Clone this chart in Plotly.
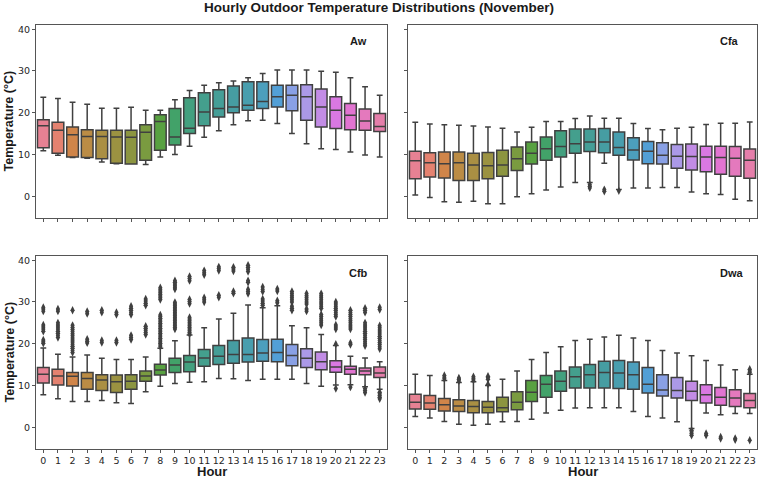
import math
import colorsys
import plotly.graph_objects as go

# ---------------- data ----------------
hours = list(range(24))
hour_labels = [str(h) for h in hours]
climates = ["Aw", "Cfa", "Cfb", "Dwa"]

aw_lower = [10.9, 9.8, 9.3, 9.1, 8.2, 7.8, 7.7, 7.6, 9.4, 10.0, 12.0, 14.1, 15.7, 17.1, 18.1, 18.2, 17.4, 15.0, 12.6, 11.4, 11.2, 10.6, 9.9, 9.4]
aw_q1 = [11.6, 10.3, 9.4, 9.3, 9.0, 7.9, 7.7, 8.6, 11.0, 12.3, 15.0, 16.9, 19.0, 20.0, 20.6, 21.0, 21.4, 20.5, 18.2, 16.6, 16.2, 15.9, 15.8, 15.5]
aw_med = [16.9, 15.8, 14.7, 14.3, 14.3, 14.2, 14.1, 15.3, 17.9, 14.2, 16.3, 20.2, 21.0, 21.4, 21.8, 22.7, 23.8, 24.2, 23.8, 21.4, 20.6, 19.4, 18.0, 16.7]
aw_q3 = [18.3, 17.7, 16.6, 15.9, 15.8, 15.8, 15.8, 17.1, 19.5, 21.0, 23.6, 24.8, 25.5, 26.4, 27.4, 27.4, 26.6, 26.6, 26.7, 25.7, 23.8, 22.2, 20.9, 19.8]
aw_upper = [23.7, 23.4, 22.5, 22.0, 21.1, 21.1, 21.3, 20.6, 20.6, 23.1, 25.3, 26.6, 27.2, 27.6, 28.4, 29.4, 30.2, 30.2, 30.2, 29.9, 29.7, 28.4, 26.2, 24.2]
aw_out = [[] for _ in range(24)]

cfa_lower = [0.3, -0.3, -1.3, -1.4, -1.2, -1.8, -1.8, -0.1, 0.6, 1.5, 2.2, 3.3, 3.3, 7.9, 1.6, 2.0, 2.0, 2.1, 2.1, 1.0, 0.6, 0.4, -0.7, -1.1]
cfa_q1 = [4.2, 4.6, 4.4, 3.8, 3.8, 4.2, 4.8, 6.2, 7.7, 8.6, 9.4, 10.3, 10.7, 10.4, 9.8, 8.7, 7.8, 7.7, 6.7, 6.3, 5.9, 5.3, 4.8, 4.3]
cfa_med = [8.5, 8.0, 7.8, 8.0, 7.5, 7.3, 7.5, 9.0, 10.3, 11.4, 11.9, 12.6, 13.0, 13.0, 11.7, 11.1, 10.8, 9.8, 9.6, 9.5, 9.4, 9.3, 9.1, 8.6]
cfa_q3 = [10.8, 10.4, 10.6, 10.6, 10.3, 10.5, 11.0, 11.8, 13.0, 14.2, 15.7, 16.1, 16.1, 16.2, 15.4, 14.0, 13.1, 12.8, 12.4, 12.5, 12.0, 12.0, 11.9, 11.3]
cfa_upper = [17.7, 17.3, 17.1, 17.0, 16.8, 16.6, 16.3, 15.4, 16.5, 17.9, 17.9, 18.6, 19.2, 18.7, 18.7, 17.4, 16.2, 15.9, 16.3, 16.5, 17.2, 17.5, 17.5, 17.8]
cfa_out = [[] for _ in range(24)]
cfa_out[12] = [2.0, 2.4, 2.8]
cfa_out[13] = [1.2, 1.6]
cfa_out[14] = [1.3]

cfb_lower = [7.8, 6.8, 6.2, 6.2, 6.4, 5.9, 5.7, 8.5, 9.8, 10.5, 10.8, 10.9, 11.7, 11.6, 11.2, 11.5, 11.5, 11.5, 10.5, 9.8, 10.1, 10.2, 9.7, 9.1]
cfb_q1 = [10.6, 10.1, 9.9, 9.1, 8.8, 8.3, 9.1, 11.0, 12.5, 13.1, 13.3, 14.6, 15.0, 15.3, 15.6, 15.8, 15.7, 14.7, 14.3, 13.8, 13.2, 12.7, 12.6, 11.9]
cfb_med = [12.7, 12.3, 12.2, 11.7, 11.3, 10.9, 11.0, 12.3, 13.7, 14.9, 15.6, 16.6, 17.0, 17.4, 17.4, 17.8, 17.9, 17.2, 16.5, 15.7, 14.4, 13.9, 13.5, 13.0]
cfb_q3 = [14.3, 13.9, 13.1, 13.1, 12.6, 12.5, 12.6, 13.5, 15.1, 16.5, 17.2, 18.6, 19.6, 20.8, 21.4, 21.0, 21.1, 19.8, 18.8, 18.0, 15.9, 14.6, 14.2, 14.4]
cfb_upper = [19.0, 17.5, 16.8, 17.3, 16.5, 16.2, 16.2, 16.8, 18.9, 20.7, 22.1, 23.8, 25.9, 27.3, 29.3, 28.6, 29.1, 24.3, 23.8, 22.2, 19.6, 17.0, 16.6, 15.7]
cfb_out = [
    [20.1, 20.5, 20.9, 23.0, 23.5, 24.0, 24.5, 27.8, 28.3, 28.7],
    [21.5, 22.0, 22.5, 23.0, 23.5, 24.0, 24.5, 25.0, 27.8, 28.3],
    [17.9, 18.4, 18.9, 19.4, 19.9, 20.4, 20.9, 21.4, 21.9, 22.4, 22.9, 23.4, 23.9, 24.4, 28.0],
    [20.2, 20.6, 21.1, 27.2, 27.7],
    [20.3, 20.8, 27.5, 28.0],
    [20.3, 20.8, 27.0, 27.5],
    [21.0, 21.5, 22.0, 27.0, 27.5, 28.0, 28.5, 29.0],
    [22.2, 22.7, 23.2, 23.7, 24.2, 29.2, 29.7, 30.2, 30.7],
    [19.3, 19.7, 20.1, 20.5, 20.9, 21.3, 21.7, 22.1, 22.5, 22.9, 23.3, 23.7, 24.1, 24.5, 24.9, 25.3, 25.7, 26.1, 26.5, 26.9,
     30.6, 31.0, 31.4, 31.8, 32.2, 32.6, 33.0, 33.4],
    [23.5, 23.9, 24.3, 24.7, 25.1, 25.5, 25.9, 26.3, 26.7, 27.1, 27.5, 27.9, 28.3, 28.7, 29.1, 29.5, 29.9,
     33.1, 33.5, 33.9, 34.3, 34.7, 35.1],
    [22.3, 22.7, 23.1, 23.5, 23.9, 24.3, 24.7, 25.1, 25.5, 25.9, 26.3, 29.6, 30.1, 30.6, 35.1, 35.6, 36.1],
    [30.0, 30.5, 31.0, 36.5, 37.0, 37.5],
    [31.1, 31.6, 37.5, 38.0, 38.4],
    [32.1, 32.5, 37.4, 37.9, 38.3],
    [32.0, 32.5, 33.0, 34.7, 35.1, 37.3, 37.8, 38.3, 38.8],
    [29.2, 29.7, 30.2, 30.7, 32.5, 33.0, 33.6],
    [29.8, 30.3, 32.6, 33.1],
    [28.0, 28.5, 29.0, 30.0, 30.5, 31.0, 31.5, 32.0, 32.5],
    [27.8, 28.3, 29.5, 30.0, 30.5, 31.0, 31.5, 32.0],
    [24.5, 25.0, 25.5, 26.0, 26.5, 27.0, 28.5, 29.0, 29.5, 30.0, 30.5, 31.0, 31.5, 32.0],
    [9.3, 19.9, 23.5, 24.0, 24.5, 26.5, 27.0, 27.5, 28.0, 28.5, 29.0, 29.5, 30.0],
    [9.6, 19.8, 20.2, 23.5, 24.0, 24.5, 25.0, 25.5, 26.0, 26.5, 27.0, 27.5, 28.0],
    [8.3, 8.8, 9.3, 19.5, 20.0, 20.5, 21.0, 21.5, 22.0, 22.5, 23.0, 23.5, 24.0, 24.5, 25.0, 27.5, 28.0, 28.5],
    [6.8, 7.2, 7.6, 8.0, 8.4, 18.8, 19.3, 19.8, 20.3, 20.8, 21.3, 21.8, 22.3, 22.8, 23.3, 23.8, 24.3, 28.2, 28.7],
]

dwa_lower = [2.6, 2.2, 1.4, 0.7, 0.5, 0.7, 1.3, 1.4, 1.9, 3.4, 4.1, 4.6, 4.7, 4.7, 4.7, 3.8, 2.6, 2.2, 1.3, -0.3, 3.4, 3.0, 3.3, 3.3]
dwa_q1 = [4.4, 4.3, 3.9, 3.8, 3.5, 3.5, 3.7, 4.2, 6.2, 7.2, 8.6, 9.4, 9.4, 9.4, 9.3, 9.1, 8.2, 7.5, 7.0, 6.4, 5.8, 5.3, 5.0, 4.7]
dwa_med = [6.0, 5.8, 5.4, 5.1, 5.0, 4.8, 4.7, 6.0, 8.4, 10.3, 11.0, 12.1, 12.6, 13.1, 13.0, 12.6, 10.3, 8.9, 8.8, 8.6, 7.8, 7.2, 7.0, 6.4]
dwa_q3 = [7.9, 7.6, 6.9, 6.6, 6.4, 6.2, 7.2, 8.5, 11.2, 12.4, 13.5, 14.4, 15.0, 15.8, 16.0, 15.6, 14.3, 12.6, 11.9, 11.0, 10.2, 9.5, 9.0, 8.1]
dwa_upper = [12.7, 12.4, 11.2, 10.7, 10.9, 10.0, 11.5, 13.5, 16.2, 17.9, 19.3, 20.8, 21.1, 21.6, 22.0, 21.4, 20.8, 18.4, 17.8, 17.1, 16.0, 14.9, 13.8, 12.7]
dwa_out = [[] for _ in range(24)]
dwa_out[2] = [11.6, 12.0, 12.4]
dwa_out[3] = [11.1, 11.5, 11.8]
dwa_out[4] = [11.3, 11.7, 12.1]
dwa_out[5] = [10.3, 11.5, 11.9, 12.2]
dwa_out[19] = [-0.7, -1.1, -1.5, -1.9]
dwa_out[20] = [-1.5, -1.9]
dwa_out[21] = [-2.3, -2.7]
dwa_out[22] = [-2.7, -3.0]
dwa_out[23] = [13.1, 13.5, 13.9, -3.1]

y_ticks = [0, 10, 20, 30, 40]

# ---------------- colours (seaborn husl palette, desaturated) ----------------
_M = [[3.2406, -1.5372, -0.4986], [-0.9689, 1.8758, 0.0415], [0.0557, -0.2040, 1.0570]]
_refU, _refV = 0.19784, 0.46834


def _max_chroma(L, H):
    hrad = math.radians(H)
    sinH, cosH = math.sin(hrad), math.cos(hrad)
    sub1 = (L + 16) ** 3 / 1560896.0
    sub2 = sub1 if sub1 > 0.008856 else L / 903.3
    result = float("inf")
    for m1, m2, m3 in _M:
        top = (0.99915 * m1 + 1.05122 * m2 + 1.14460 * m3) * sub2
        rbottom = 0.86330 * m3 - 0.17266 * m2
        lbottom = 0.12949 * m3 - 0.38848 * m1
        bottom = (rbottom * sinH + lbottom * cosH) * sub2
        for t in (0.0, 1.0):
            C = L * (top - 1.05122 * t) / (bottom + 0.17266 * sinH * t)
            if 0.0 < C < result:
                result = C
    return result


def _from_linear(c):
    return 12.92 * c if c <= 0.0031308 else 1.055 * c ** (1 / 2.4) - 0.055


def husl_to_rgb(H, S, L):
    C = _max_chroma(L, H) / 100.0 * S
    hr = math.radians(H)
    U, V = math.cos(hr) * C, math.sin(hr) * C
    t = (L + 16.0) / 116.0
    Y = t ** 3 if t ** 3 > 0.008856 else (116.0 * t - 16.0) / 903.3
    varU = U / (13.0 * L) + _refU
    varV = V / (13.0 * L) + _refV
    X = 0.0 - (9.0 * Y * varU) / ((varU - 4.0) * varV - varU * varV)
    Z = (9.0 * Y - 15.0 * varV * Y - varV * X) / (3.0 * varV)
    rgb = [_from_linear(r[0] * X + r[1] * Y + r[2] * Z) for r in _M]
    return [min(max(v, 0.0), 1.0) for v in rgb]


n = 24
palette = []
for i in range(n):
    h = ((i / n) + 0.01) % 1 * 359
    palette.append(husl_to_rgb(h, 0.9 * 99, 0.65 * 99))

colors = []
lights = []
for r, g, b in palette:
    hh, ll, ss = colorsys.rgb_to_hls(r, g, b)
    rr, gg, bb = colorsys.hls_to_rgb(hh, ll, ss * 0.75)
    lights.append(colorsys.rgb_to_hls(rr, gg, bb)[1])
    colors.append("rgb(%d,%d,%d)" % (round(rr * 255), round(gg * 255), round(bb * 255)))
lum = int(round(min(lights) * 0.6 * 255))
gray = "rgb(%d,%d,%d)" % (lum, lum, lum)

# ---------------- figure ----------------
W, H = 758, 478
panels = [
    ("x", "y", aw_lower, aw_q1, aw_med, aw_q3, aw_upper, aw_out),
    ("x2", "y2", cfa_lower, cfa_q1, cfa_med, cfa_q3, cfa_upper, cfa_out),
    ("x3", "y3", cfb_lower, cfb_q1, cfb_med, cfb_q3, cfb_upper, cfb_out),
    ("x4", "y4", dwa_lower, dwa_q1, dwa_med, dwa_q3, dwa_upper, dwa_out),
]

fig = go.Figure()
for xa, ya, lo, q1, md, q3, up, outs in panels:
    for h in hours:
        fig.add_trace(go.Box(
            x=[h], q1=[q1[h]], median=[md[h]], q3=[q3[h]],
            lowerfence=[lo[h]], upperfence=[up[h]],
            width=0.8, whiskerwidth=0.5, boxpoints=False,
            fillcolor=colors[h], line=dict(color=gray, width=1.5),
            xaxis=xa, yaxis=ya, showlegend=False, hoverinfo="skip",
        ))
    ox, oy = [], []
    for h in hours:
        for v in outs[h]:
            ox.append(h)
            oy.append(v)
    fig.add_trace(go.Scatter(
        x=ox, y=oy, mode="markers",
        marker=dict(symbol="diamond-tall", size=6, color=gray, line=dict(width=0)),
        xaxis=xa, yaxis=ya, showlegend=False, hoverinfo="skip",
    ))


def px_x(a, b):
    return [a / W, b / W]


def px_y(top, bottom):
    return [1 - bottom / H, 1 - top / H]


ax_common = dict(showline=True, mirror=True, linecolor="#555555", linewidth=1,
                 ticks="outside", ticklen=3, tickwidth=1, tickcolor="#555555",
                 showgrid=False, zeroline=False, automargin=False,
                 tickfont=dict(family="DejaVu Sans", size=9.5, color="#262626"))

xdom_l, xdom_r = px_x(36, 387), px_x(408, 757)
ydom_t, ydom_b = px_y(25, 218), px_y(256, 449)

layout = dict(
    width=W, height=H, margin=dict(l=0, r=0, t=0, b=0),
    paper_bgcolor="white", plot_bgcolor="white", boxmode="overlay",
)
specs = [("xaxis", "yaxis", xdom_l, ydom_t, False, True, "x", "y"),
         ("xaxis2", "yaxis2", xdom_r, ydom_t, False, False, "x2", "y2"),
         ("xaxis3", "yaxis3", xdom_l, ydom_b, True, True, "x3", "y3"),
         ("xaxis4", "yaxis4", xdom_r, ydom_b, True, False, "x4", "y4")]
for xk, yk, xd, yd, showx, showy, xa, ya in specs:
    layout[xk] = dict(ax_common, domain=xd, anchor=ya, range=[-0.5, 23.5],
                      tickvals=hours, ticktext=hour_labels, showticklabels=showx)
    layout[yk] = dict(ax_common, domain=yd, anchor=xa, range=[-5.2, 41.0],
                      tickvals=y_ticks, showticklabels=showy)
fig.update_layout(**layout)

title_font = dict(family="Liberation Sans", size=13.5, color="#1a1a1a")
ann = [
    dict(text="<b>Hourly Outdoor Temperature Distributions (November)</b>", x=379 / W, y=1 - 7.5 / H,
         font=title_font),
    dict(text="<b>Temperature (°C)</b>", x=9 / W, y=1 - 121.5 / H, textangle=-90,
         font=dict(family="Liberation Sans", size=12.5, color="#1a1a1a")),
    dict(text="<b>Temperature (°C)</b>", x=9 / W, y=1 - 352.5 / H, textangle=-90,
         font=dict(family="Liberation Sans", size=12.5, color="#1a1a1a")),
    dict(text="<b>Hour</b>", x=211.5 / W, y=1 - 471 / H,
         font=dict(family="Liberation Sans", size=13, color="#1a1a1a")),
    dict(text="<b>Hour</b>", x=582.5 / W, y=1 - 471 / H,
         font=dict(family="Liberation Sans", size=13, color="#1a1a1a")),
]
for name, x, y in [("Aw", 358, 41), ("Cfa", 729, 41), ("Cfb", 358, 273), ("Dwa", 732, 273)]:
    ann.append(dict(text="<b>%s</b>" % name, x=x / W, y=1 - y / H,
                    font=dict(family="Liberation Sans", size=11, color="#1a1a1a")))
for a in ann:
    a.update(xref="paper", yref="paper", showarrow=False, xanchor="center", yanchor="middle")
fig.update_layout(annotations=ann)

fig.write_html("out.html", config={"displayModeBar": False},
               post_script="document.body.style.margin='0';document.body.style.overflow='hidden';")
